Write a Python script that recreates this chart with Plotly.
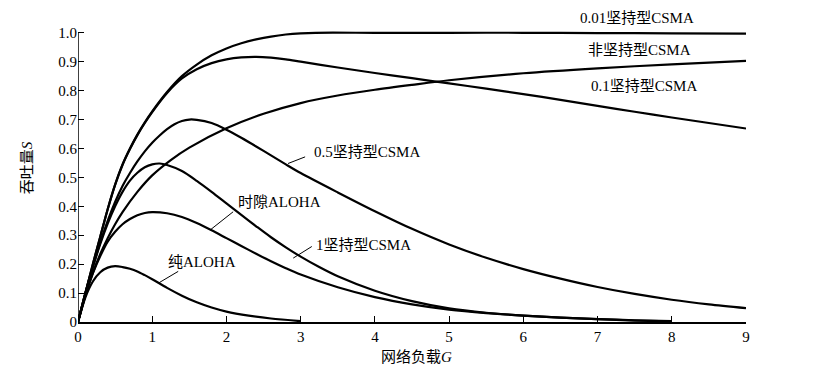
import plotly.graph_objects as go

# ---- data ----
g_top = [0, 0.1, 0.2, 0.3, 0.4, 0.5, 0.6, 0.7, 0.8, 0.9, 1.0, 1.2, 1.4, 1.6, 1.8, 2.0, 2.2, 2.4, 2.6, 2.8, 3.0, 3.2, 4, 5, 6, 7, 8, 9]
s_p001 = [0, 0.1, 0.2, 0.295, 0.39, 0.475, 0.545, 0.6, 0.648, 0.69, 0.728, 0.795, 0.85, 0.89, 0.922, 0.946, 0.964, 0.977, 0.987, 0.994, 0.998, 1.0, 1.0, 1.0, 1.0, 0.999, 0.998, 0.997]

g_desc = [0, 0.1, 0.2, 0.3, 0.4, 0.5, 0.6, 0.7, 0.8, 0.9, 1.0, 1.2, 1.4, 1.6, 1.8, 2.0, 2.2, 2.4, 2.6, 2.8, 3.0, 3.5, 4, 4.5, 5, 5.5, 6, 6.5, 7, 7.5, 8, 8.5, 9]
s_desc = [0, 0.1, 0.2, 0.295, 0.39, 0.474, 0.543, 0.598, 0.646, 0.688, 0.726, 0.792, 0.842, 0.874, 0.895, 0.908, 0.915, 0.917, 0.914, 0.908, 0.9, 0.88, 0.861, 0.843, 0.825, 0.807, 0.788, 0.768, 0.747, 0.727, 0.707, 0.688, 0.669]

g_rise = [0, 0.1, 0.2, 0.3, 0.4, 0.5, 0.6, 0.8, 1.0, 1.25, 1.5, 2.0, 2.5, 3.0, 3.5, 4.0, 4.5, 5.0, 6.0, 7.0, 8.0, 9.0]
s_rise = [0, 0.092, 0.17, 0.235, 0.29, 0.338, 0.38, 0.45, 0.507, 0.56, 0.603, 0.67, 0.72, 0.757, 0.783, 0.803, 0.82, 0.836, 0.86, 0.877, 0.891, 0.903]

g_p05 = [0, 0.1, 0.2, 0.3, 0.4, 0.5, 0.6, 0.7, 0.8, 0.9, 1.0, 1.1, 1.2, 1.3, 1.4, 1.5, 1.6, 1.8, 2.0, 2.2, 2.4, 2.6, 2.8, 3.0, 3.5, 4.0, 4.5, 5.0, 5.5, 6.0, 6.5, 7.0, 7.5, 8.0, 8.5, 9.0]
s_p05 = [0, 0.1, 0.19, 0.275, 0.35, 0.415, 0.47, 0.515, 0.555, 0.59, 0.62, 0.645, 0.667, 0.684, 0.695, 0.7, 0.699, 0.688, 0.665, 0.637, 0.607, 0.576, 0.545, 0.515, 0.448, 0.383, 0.322, 0.268, 0.222, 0.183, 0.15, 0.121, 0.097, 0.077, 0.061, 0.048]

g_p1 = [0, 0.1, 0.2, 0.3, 0.4, 0.5, 0.6, 0.7, 0.8, 0.9, 1.0, 1.1, 1.2, 1.4, 1.6, 1.8, 2.0, 2.2, 2.4, 2.6, 2.8, 3.0, 3.25, 3.5, 4.0, 4.5, 5.0, 5.5, 6.0, 6.5, 7.0, 7.5, 8.0]
s_p1 = [0, 0.1, 0.19, 0.27, 0.34, 0.4, 0.45, 0.489, 0.516, 0.535, 0.545, 0.548, 0.543, 0.522, 0.488, 0.45, 0.41, 0.37, 0.331, 0.293, 0.258, 0.226, 0.19, 0.158, 0.108, 0.072, 0.047, 0.032, 0.022, 0.015, 0.01, 0.006, 0.003]

g_slot = [0, 0.1, 0.2, 0.3, 0.4, 0.5, 0.6, 0.7, 0.8, 0.9, 1.0, 1.2, 1.4, 1.6, 1.8, 2.0, 2.2, 2.4, 2.6, 2.8, 3.0, 3.5, 4.0, 4.5, 5.0, 5.5, 6.0, 6.5, 7.0, 7.5, 8.0]
s_slot = [0, 0.092, 0.168, 0.228, 0.278, 0.312, 0.338, 0.356, 0.369, 0.377, 0.38, 0.376, 0.363, 0.342, 0.317, 0.29, 0.263, 0.236, 0.21, 0.186, 0.164, 0.12, 0.086, 0.061, 0.043, 0.031, 0.022, 0.015, 0.01, 0.005, 0.002]

g_pure = [0, 0.1, 0.2, 0.3, 0.4, 0.5, 0.6, 0.7, 0.8, 0.9, 1.0, 1.2, 1.4, 1.6, 1.8, 2.0, 2.3, 2.6, 3.0]
s_pure = [0, 0.085, 0.14, 0.172, 0.188, 0.193, 0.19, 0.184, 0.175, 0.162, 0.148, 0.118, 0.091, 0.068, 0.05, 0.036, 0.022, 0.012, 0.003]

x_ticks = [0, 1, 2, 3, 4, 5, 6, 7, 8, 9]
x_tick_text = ["0", "1", "2", "3", "4", "5", "6", "7", "8", "9"]
y_ticks = [0, 0.1, 0.2, 0.3, 0.4, 0.5, 0.6, 0.7, 0.8, 0.9, 1.0]
y_tick_text = ["0", "0.1", "0.2", "0.3", "0.4", "0.5", "0.6", "0.7", "0.8", "0.9", "1.0"]

# label texts, anchor positions (data coords) and leader lines
labels = ["0.01坚持型CSMA", "非坚持型CSMA", "0.1坚持型CSMA", "0.5坚持型CSMA", "时隙ALOHA", "1坚持型CSMA", "纯ALOHA"]
label_x = [7.53, 7.57, 7.62, 3.89, 2.71, 3.85, 1.67]
label_y = [1.052, 0.941, 0.815, 0.588, 0.416, 0.267, 0.206]
leader_x0 = [None, None, None, 3.06, 2.09, 3.15, 1.35]
leader_y0 = [None, None, None, 0.571, 0.381, 0.261, 0.175]
leader_x1 = [None, None, None, 2.83, 1.78, 2.90, 1.08]
leader_y1 = [None, None, None, 0.548, 0.318, 0.221, 0.134]

Y_MAX = 1.02
FONT = "Liberation Serif, Times New Roman, Noto Sans CJK SC, serif"

fig = go.Figure()
for gx, sy in [(g_top, s_p001), (g_desc, s_desc), (g_rise, s_rise), (g_p05, s_p05),
               (g_p1, s_p1), (g_slot, s_slot), (g_pure, s_pure)]:
    fig.add_trace(go.Scatter(x=gx, y=sy, mode="lines",
                             line=dict(color="black", width=2.2, shape="spline", smoothing=0.8),
                             showlegend=False, hoverinfo="skip"))

annotations = []
for t, x, y in zip(labels, label_x, label_y):
    # use paper coordinates for y so labels above the axis range still show
    annotations.append(dict(x=x, y=y / Y_MAX, xref="x", yref="paper", text=t, showarrow=False,
                            font=dict(family=FONT, size=15, color="black"), xanchor="center", yanchor="middle"))
annotations.append(dict(x=-0.0763, y=0.532 / Y_MAX, xref="paper", yref="paper", text="吞吐量<i>S</i>", showarrow=False,
                        textangle=-90, font=dict(family=FONT, size=15, color="black"), xanchor="center", yanchor="middle"))
annotations.append(dict(x=0.507, y=-0.118, xref="paper", yref="paper", text="网络负载<i>G</i>", showarrow=False,
                        font=dict(family=FONT, size=15, color="black"), xanchor="center", yanchor="middle"))

shapes = []
for x0, y0, x1, y1 in zip(leader_x0, leader_y0, leader_x1, leader_y1):
    if x0 is None:
        continue
    shapes.append(dict(type="line", xref="x", yref="y", x0=x0, y0=y0, x1=x1, y1=y1, line=dict(color="black", width=1)))
# y axis line from 0 to 1.0
shapes.append(dict(type="line", xref="x", yref="y", x0=0, y0=0, x1=0, y1=y_ticks[-1], line=dict(color="black", width=1.5)))

fig.update_layout(
    width=828, height=370,
    margin=dict(l=78, r=82, t=27, b=48),
    paper_bgcolor="white", plot_bgcolor="white",
    annotations=annotations, shapes=shapes,
    xaxis=dict(range=[0, 9], tickvals=x_ticks, ticktext=x_tick_text, ticks="inside", ticklen=6, tickwidth=1,
               tickcolor="black", showline=True, linecolor="black", linewidth=1.5, showgrid=False, zeroline=False,
               tickfont=dict(family=FONT, size=15, color="black")),
    yaxis=dict(range=[0, Y_MAX], tickvals=y_ticks, ticktext=y_tick_text, ticks="inside", ticklen=6, tickwidth=1,
               tickcolor="black", showline=False, showgrid=False, zeroline=False,
               tickfont=dict(family=FONT, size=15, color="black")),
)

fig.write_html("out.html", config={"displayModeBar": False},
               post_script="document.body.style.margin='0px';document.body.style.padding='0px';")
